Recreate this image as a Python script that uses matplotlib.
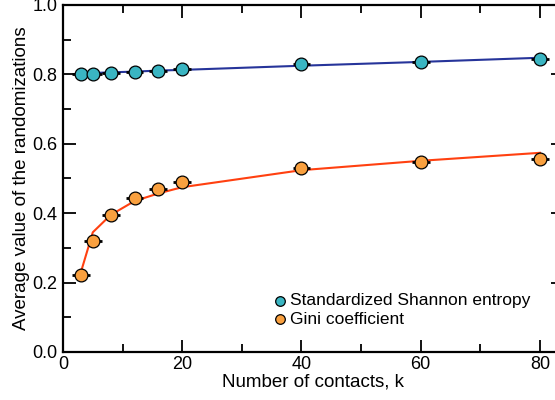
import numpy as np
import matplotlib
matplotlib.use('Agg')
import matplotlib.pyplot as plt
from matplotlib.ticker import MultipleLocator

plt.rcParams['font.family'] = ['Liberation Sans', 'DejaVu Sans']

# data
k = [3, 5, 8, 12, 16, 20, 40, 60, 80]
shannon = [0.800, 0.800, 0.803, 0.806, 0.811, 0.815, 0.829, 0.837, 0.845]
gini = [0.222, 0.320, 0.394, 0.444, 0.471, 0.490, 0.531, 0.548, 0.555]
shannon_fit = [0.803, 0.804, 0.806, 0.808, 0.811, 0.813, 0.825, 0.836, 0.848]
gini_fit = [0.230, 0.345, 0.395, 0.435, 0.457, 0.475, 0.524, 0.551, 0.574]
k_err = [1.5] * len(k)

fig = plt.figure(figsize=(5.55, 4), dpi=100)
ax = fig.add_axes([63/555, 48/400, 500/555, 347/400])

# fitted curves
ax.plot(k, shannon_fit, color='#26349a', lw=1.5, zorder=2)
ax.plot(k, gini_fit, color='#ff4010', lw=1.5, zorder=2)

# error bars
ax.errorbar(k, shannon, xerr=k_err, fmt='none', ecolor='black', elinewidth=2, capsize=0, zorder=3)
ax.errorbar(k, gini, xerr=k_err, fmt='none', ecolor='black', elinewidth=2, capsize=0, zorder=3)

# points
ax.plot(k, shannon, 'o', ms=9.2, mfc='#3ab5c2', mec='black', mew=0.9, ls='none', zorder=4)
ax.plot(k, gini, 'o', ms=9.2, mfc='#f9a03f', mec='black', mew=0.9, ls='none', zorder=4)

h1 = ax.scatter([], [], s=48, c='#3ab5c2', edgecolors='black', linewidths=0.9, label='Standardized Shannon entropy')
h2 = ax.scatter([], [], s=48, c='#f9a03f', edgecolors='black', linewidths=0.9, label='Gini coefficient')
ax.legend(handles=[h1, h2], loc='upper left', bbox_to_anchor=(0.40, 0.195), frameon=False,
          fontsize=12.5, handletextpad=0.05, handlelength=1.0, borderpad=0, labelspacing=0.2)

ax.set_xlim(0, 83.86)
ax.set_ylim(0, 1.0)
ax.xaxis.set_major_locator(MultipleLocator(20))
ax.xaxis.set_minor_locator(MultipleLocator(10))
ax.yaxis.set_major_locator(MultipleLocator(0.2))
ax.yaxis.set_minor_locator(MultipleLocator(0.1))
ax.yaxis.set_major_formatter(matplotlib.ticker.FormatStrFormatter('%.1f'))
ax.tick_params(which='both', direction='in', top=True, right=True, labelsize=13, width=1.3)
ax.tick_params(axis='x', pad=3)
ax.tick_params(axis='y', pad=4)
ax.tick_params(which='major', length=9)
ax.tick_params(which='minor', length=6)
for s in ax.spines.values():
    s.set_linewidth(1.6)

ax.set_xlabel('Number of contacts, k', fontsize=13.5, labelpad=0)
ax.set_ylabel('Average value of the randomizations', fontsize=13.5, labelpad=2)

fig.savefig('out.png', dpi=100)
